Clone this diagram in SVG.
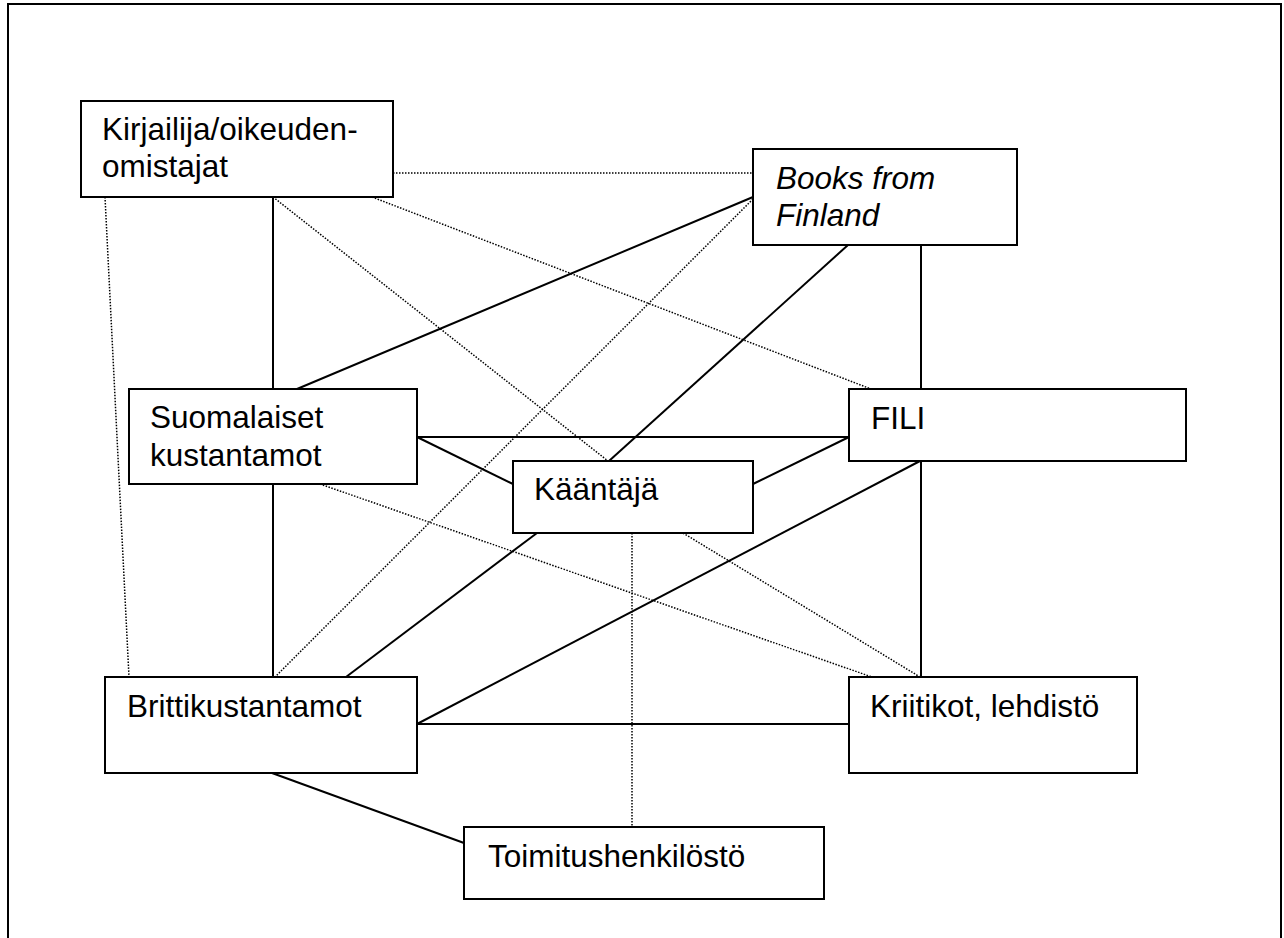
<svg xmlns="http://www.w3.org/2000/svg" width="1284" height="938" viewBox="0 0 1284 938">
<style>
.box{fill:#fff;stroke:#000;stroke-width:2}
.s{stroke:#000;stroke-width:2;fill:none}
.d{stroke:#000;stroke-width:1.5;stroke-dasharray:1.5 1.5;fill:none}
text{font-family:"Liberation Sans",Arial,sans-serif;font-size:31.5px;fill:#000}
</style>
<rect x="0" y="0" width="1284" height="938" fill="#fff"/>
<path d="M8,950 V4 H1281 V950" fill="none" stroke="#000" stroke-width="2"/>
<g id="connectors">
<line class="s" x1="273" y1="197" x2="273" y2="389"/>
<line class="s" x1="753" y1="197" x2="297" y2="389"/>
<line class="s" x1="848" y1="245" x2="609" y2="461"/>
<line class="s" x1="921" y1="245" x2="921" y2="389"/>
<line class="s" x1="417" y1="437" x2="849" y2="437"/>
<line class="s" x1="417" y1="437" x2="513" y2="484"/>
<line class="s" x1="849" y1="437" x2="753" y2="484"/>
<line class="s" x1="273" y1="484" x2="273" y2="677"/>
<line class="s" x1="537" y1="533" x2="346" y2="677"/>
<line class="s" x1="920" y1="461" x2="417" y2="724"/>
<line class="s" x1="417" y1="724" x2="849" y2="724"/>
<line class="s" x1="921" y1="461" x2="921" y2="677"/>
<line class="s" x1="272" y1="773" x2="464" y2="843"/>
<line class="d" x1="393" y1="173" x2="753" y2="173"/>
<line class="d" x1="105" y1="197" x2="129" y2="677"/>
<line class="d" x1="273" y1="197" x2="608" y2="461"/>
<line class="d" x1="372" y1="197" x2="871" y2="389"/>
<line class="d" x1="753" y1="199" x2="275" y2="677"/>
<line class="d" x1="320" y1="484" x2="872" y2="677"/>
<line class="d" x1="683" y1="533" x2="920" y2="677"/>
<line class="d" x1="632" y1="533" x2="632" y2="827"/>
</g>
<g id="kirjailija">
<rect class="box" x="81" y="101" width="312" height="96"/>
<text x="102" y="140">Kirjailija/oikeuden-</text>
<text x="102" y="177">omistajat</text>
</g>
<g id="books">
<rect class="box" x="753" y="149" width="264" height="96"/>
<text x="776" y="189" font-style="italic">Books from</text>
<text x="776" y="226" font-style="italic">Finland</text>
</g>
<g id="suomalaiset">
<rect class="box" x="129" y="389" width="288" height="95"/>
<text x="150" y="428">Suomalaiset</text>
<text x="150" y="466">kustantamot</text>
</g>
<g id="fili">
<rect class="box" x="849" y="389" width="337" height="72"/>
<text x="871" y="429">FILI</text>
</g>
<g id="kaantaja">
<rect class="box" x="513" y="461" width="240" height="72"/>
<text x="534" y="500">Kääntäjä</text>
</g>
<g id="britti">
<rect class="box" x="105" y="677" width="312" height="96"/>
<text x="127" y="717">Brittikustantamot</text>
</g>
<g id="kriitikot">
<rect class="box" x="849" y="677" width="288" height="96"/>
<text x="870" y="717">Kriitikot, lehdistö</text>
</g>
<g id="toimitus">
<rect class="box" x="464" y="827" width="360" height="72"/>
<text x="488" y="867">Toimitushenkilöstö</text>
</g>
</svg>
